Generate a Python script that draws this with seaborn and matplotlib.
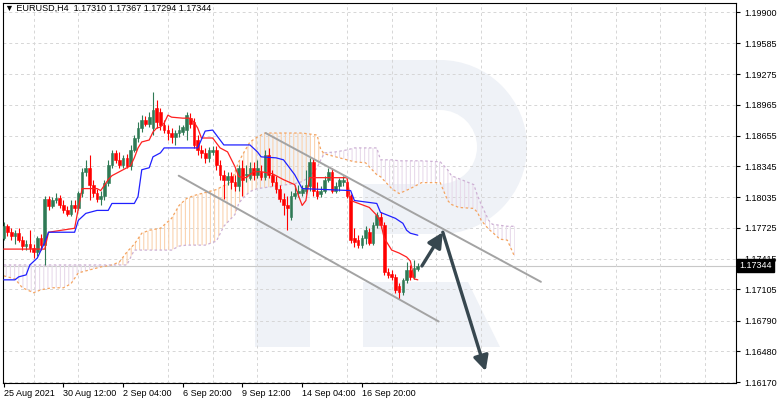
import numpy as np
import matplotlib
matplotlib.use("Agg")
import matplotlib.pyplot as plt
import matplotlib.transforms as mtransforms
from matplotlib.patches import Rectangle, Wedge, Polygon
import seaborn as sns

# EURUSD H4 candles (oldest first)
open_ = [1.1762, 1.1774, 1.1768, 1.1764, 1.1767, 1.1760, 1.1754, 1.1756, 1.1752, 1.1748,
         1.1762, 1.1755, 1.1802, 1.1794, 1.1800, 1.1803, 1.1795, 1.1790, 1.1786, 1.1795,
         1.1792, 1.1808, 1.1829, 1.1833, 1.1816, 1.1808, 1.1802, 1.1805, 1.1818, 1.1836,
         1.1848, 1.1841, 1.1836, 1.1843, 1.1835, 1.1851, 1.1863, 1.1873, 1.1881, 1.1877,
         1.1873, 1.1893, 1.1889, 1.1876, 1.1871, 1.1868, 1.1864, 1.1868, 1.1869, 1.1871,
         1.1883, 1.1879, 1.1861, 1.1851, 1.1848, 1.1843, 1.1849, 1.1851, 1.1836, 1.1826,
         1.1821, 1.1825, 1.1819, 1.1815, 1.1833, 1.1826, 1.1823, 1.1833, 1.1826, 1.1829,
         1.1824, 1.1846, 1.1826, 1.1819, 1.1812, 1.1802, 1.1795, 1.1783, 1.1805, 1.1808,
         1.1808, 1.1810, 1.1815, 1.1839, 1.1810, 1.1807, 1.1810, 1.1821, 1.1829, 1.1810,
         1.1815, 1.1819, 1.1819, 1.1805, 1.1762, 1.1760, 1.1755, 1.1762, 1.1768, 1.1757,
         1.1775, 1.1783, 1.1775, 1.1728, 1.1726, 1.1723, 1.1714, 1.1708, 1.1720, 1.1730,
         1.1723, 1.17310]
high = [1.1778, 1.1776, 1.1772, 1.1770, 1.1772, 1.1764, 1.1760, 1.1770, 1.1756, 1.1764,
        1.1766, 1.1805, 1.1805, 1.1804, 1.1808, 1.1806, 1.1800, 1.1794, 1.1800, 1.1800,
        1.1810, 1.1833, 1.1841, 1.1846, 1.1821, 1.1812, 1.1810, 1.1821, 1.1841, 1.1851,
        1.1851, 1.1849, 1.1846, 1.1847, 1.1856, 1.1866, 1.1879, 1.1886, 1.1885, 1.1889,
        1.1909, 1.1901, 1.1893, 1.1881, 1.1876, 1.1873, 1.1871, 1.1876, 1.1876, 1.1889,
        1.1888, 1.1883, 1.1866, 1.1856, 1.1853, 1.1854, 1.1855, 1.1855, 1.1841, 1.1831,
        1.1829, 1.1829, 1.1826, 1.1836, 1.1841, 1.1836, 1.1839, 1.1839, 1.1841, 1.1836,
        1.1851, 1.1853, 1.1831, 1.1825, 1.1816, 1.1808, 1.1805, 1.1810, 1.1816, 1.1816,
        1.1816, 1.1831, 1.1843, 1.1843, 1.1819, 1.1815, 1.1825, 1.1833, 1.1833, 1.1819,
        1.1823, 1.1825, 1.1823, 1.1807, 1.1772, 1.1765, 1.1765, 1.1774, 1.1772, 1.1778,
        1.1788, 1.1788, 1.1778, 1.1732, 1.1730, 1.1726, 1.1717, 1.1722, 1.1738, 1.1735,
        1.1740, 1.17367]
low = [1.1760, 1.1764, 1.1760, 1.1756, 1.1758, 1.1750, 1.1750, 1.1748, 1.1742, 1.1744,
       1.1750, 1.1735, 1.1790, 1.1792, 1.1797, 1.1792, 1.1787, 1.1784, 1.1784, 1.1788,
       1.1790, 1.1804, 1.1825, 1.1800, 1.1804, 1.1798, 1.1795, 1.1800, 1.1815, 1.1833,
       1.1838, 1.1833, 1.1833, 1.1833, 1.1831, 1.1849, 1.1859, 1.1869, 1.1875, 1.1874,
       1.1866, 1.1873, 1.1871, 1.1868, 1.1861, 1.1858, 1.1856, 1.1864, 1.1866, 1.1861,
       1.1873, 1.1853, 1.1846, 1.1843, 1.1838, 1.1839, 1.1846, 1.1831, 1.1821, 1.1802,
       1.1816, 1.1812, 1.1810, 1.1810, 1.1805, 1.1819, 1.1821, 1.1821, 1.1823, 1.1821,
       1.1821, 1.1823, 1.1815, 1.1808, 1.1798, 1.1785, 1.1770, 1.1780, 1.1802, 1.1804,
       1.1805, 1.1807, 1.1810, 1.1805, 1.1802, 1.1804, 1.1808, 1.1819, 1.1808, 1.1808,
       1.1810, 1.1815, 1.1803, 1.1757, 1.1753, 1.1752, 1.1752, 1.1756, 1.1755, 1.1755,
       1.1772, 1.1772, 1.1725, 1.1722, 1.1720, 1.1707, 1.1701, 1.1705, 1.1717, 1.1720,
       1.1721, 1.17294]
close = [1.1774, 1.1768, 1.1764, 1.1767, 1.1760, 1.1754, 1.1756, 1.1752, 1.1748, 1.1762,
         1.1755, 1.1802, 1.1794, 1.1800, 1.1803, 1.1795, 1.1790, 1.1786, 1.1795, 1.1792,
         1.1808, 1.1829, 1.1833, 1.1816, 1.1808, 1.1802, 1.1805, 1.1818, 1.1836, 1.1848,
         1.1841, 1.1836, 1.1843, 1.1835, 1.1851, 1.1863, 1.1873, 1.1881, 1.1877, 1.1884,
         1.1891, 1.1879, 1.1876, 1.1871, 1.1868, 1.1864, 1.1868, 1.1871, 1.1874, 1.1886,
         1.1877, 1.1856, 1.1851, 1.1848, 1.1843, 1.1851, 1.1851, 1.1836, 1.1826, 1.1821,
         1.1825, 1.1819, 1.1815, 1.1833, 1.1821, 1.1827, 1.1833, 1.1826, 1.1833, 1.1824,
         1.1846, 1.1826, 1.1819, 1.1812, 1.1802, 1.1795, 1.1792, 1.1805, 1.1808, 1.1810,
         1.1812, 1.1816, 1.1839, 1.1810, 1.1805, 1.1810, 1.1821, 1.1829, 1.1810, 1.1815,
         1.1821, 1.1821, 1.1805, 1.1760, 1.1758, 1.1755, 1.1762, 1.1770, 1.1757, 1.1775,
         1.1785, 1.1775, 1.1728, 1.1725, 1.1723, 1.1710, 1.1708, 1.1720, 1.1730, 1.1723,
         1.1732, 1.17344]

# Ichimoku Tenkan-sen (red) and Kijun-sen (blue), vertices as (bar, price)
tenkan_x = [0, 11, 12, 19, 20, 21, 25, 26, 28, 29, 34, 35, 36, 37, 39, 40, 41, 42, 43, 44,
            45, 48, 50, 51, 52, 53, 56, 58, 60, 62, 63, 65, 67, 69, 72, 75, 78, 79, 80, 81,
            82, 92, 93, 98, 100, 101, 102, 104, 106, 108, 109, 110, 111]
tenkan = [1.1751, 1.1751, 1.1768, 1.1772, 1.1792, 1.1812, 1.1812, 1.1810, 1.1821, 1.1825,
          1.1835, 1.1843, 1.1853, 1.1859, 1.1861, 1.1869, 1.1873, 1.1874, 1.1878, 1.1886,
          1.1884, 1.1883, 1.1883, 1.1879, 1.1873, 1.1863, 1.1863, 1.1853, 1.1849, 1.1834,
          1.1824, 1.1823, 1.1829, 1.1829, 1.1827, 1.1821, 1.1816, 1.1805, 1.1795, 1.1800,
          1.1823, 1.1823, 1.1800, 1.1793, 1.1785, 1.1778, 1.1762, 1.1750, 1.1747, 1.1743,
          1.1739, 1.1721, 1.1720]
kijun_x = [0, 3, 4, 6, 7, 9, 10, 11, 12, 19, 20, 22, 25, 28, 29, 35, 36, 37, 39, 40,
           42, 43, 52, 54, 56, 59, 66, 68, 69, 73, 75, 78, 80, 93, 94, 100, 101, 105, 107, 108,
           109, 111]
kijun = [1.1720, 1.1720, 1.1723, 1.1725, 1.1735, 1.1742, 1.1750, 1.1758, 1.1768, 1.1768,
         1.1780, 1.1787, 1.1790, 1.1790, 1.1797, 1.1797, 1.1804, 1.1831, 1.1833, 1.1844,
         1.1848, 1.1853, 1.1853, 1.1870, 1.1871, 1.1856, 1.1856, 1.1849, 1.1844, 1.1843,
         1.1841, 1.1826, 1.1812, 1.1810, 1.1800, 1.1797, 1.1788, 1.1782, 1.1777, 1.1770,
         1.1767, 1.1765]

# Senkou span A / B (cloud, already shifted 26 bars ahead)
span_x = [0, 3, 5, 8, 10, 13, 16, 18, 20, 23, 26, 29, 31, 33, 35, 37, 39, 42, 45, 47,
          49, 51, 54, 57, 59, 61, 62, 63, 64, 66, 68, 70, 74, 78, 80, 82, 84, 85, 86, 89,
          92, 94, 97, 100, 101, 104, 106, 109, 112, 117, 119, 120, 122, 126, 127, 128, 130, 131, 133, 135,
          137]
span_a = [1.1724, 1.1721, 1.1712, 1.1707, 1.1710, 1.1712, 1.1712, 1.1716, 1.1727, 1.1730,
          1.1733, 1.1735, 1.1738, 1.1748, 1.1756, 1.1767, 1.1770, 1.1772, 1.1782, 1.1795,
          1.1802, 1.1805, 1.1808, 1.1811, 1.1815, 1.1819, 1.1829, 1.1839, 1.1846, 1.1859,
          1.1864, 1.1868, 1.1868, 1.1868, 1.1868, 1.1867, 1.1866, 1.1851, 1.1847, 1.1844,
          1.1841, 1.1839, 1.1838, 1.1826, 1.1824, 1.1812, 1.1807, 1.1812, 1.1818, 1.1818,
          1.1800, 1.1796, 1.1793, 1.1792, 1.1788, 1.1780, 1.1771, 1.1768, 1.1761, 1.1760,
          1.1743]
span_b = [1.1735, 1.1735, 1.1735, 1.1735, 1.1735, 1.1735, 1.1735, 1.1735, 1.1735, 1.1735,
          1.1735, 1.1735, 1.1735, 1.1735, 1.1750, 1.1750, 1.1750, 1.1750, 1.1750, 1.1754,
          1.1755, 1.1755, 1.1755, 1.1759, 1.1774, 1.1782, 1.1786, 1.1797, 1.1802, 1.1809,
          1.1812, 1.1813, 1.1815, 1.1817, 1.1819, 1.1824, 1.1833, 1.1841, 1.1848, 1.1849,
          1.1851, 1.1853, 1.1853, 1.1853, 1.1841, 1.1841, 1.1840, 1.1840, 1.1840, 1.1839,
          1.1831, 1.1825, 1.1822, 1.1816, 1.1805, 1.1796, 1.1780, 1.1776, 1.1775, 1.1774,
          1.1774]

# hand-drawn channel and forecast arrows (bar, price)
channel_upper = [(70.2, 1.1868), (144.0, 1.1718)]
channel_lower = [(46.9, 1.1825), (116.6, 1.1678)]
arrow_path = [(112.1, 1.1734), (117.7, 1.1768), (129.2, 1.1628)]

price_ticks = [1.19900, 1.19585, 1.19275, 1.18965, 1.18655, 1.18345, 1.18035,
               1.17725, 1.17415, 1.17105, 1.16790, 1.16480, 1.16170]
time_ticks = [0, 16, 32, 48, 64, 80, 96]
time_labels = ["25 Aug 2021", "30 Aug 12:00", "2 Sep 04:00", "6 Sep 20:00",
               "9 Sep 12:00", "14 Sep 04:00", "16 Sep 20:00"]

sns.set_style("white")
plt.rcParams["font.family"] = ["Liberation Sans", "DejaVu Sans"]
plt.rcParams["hatch.linewidth"] = 0.8

fig = plt.figure(figsize=(7.82, 4.03), dpi=100)

# watermark logo behind the chart (pixel coordinates)
bg = fig.add_axes([0, 0, 1, 1])
bg.set_xlim(0, 782)
bg.set_ylim(403, 0)
bg.axis("off")
wm = "#eff2f7"
bg.add_patch(Rectangle((255, 60), 55, 287, color=wm, lw=0))
bg.add_patch(Rectangle((255, 60), 185, 50, color=wm, lw=0))
bg.add_patch(Rectangle((363, 184), 77, 50, color=wm, lw=0))
bg.add_patch(Wedge((440, 147), 87, -90, 90, width=50, color=wm, lw=0))
bg.add_patch(Polygon([(363, 282), (468, 282), (500, 347), (363, 347)], color=wm, lw=0))

ax = fig.add_axes([3 / 782, 20 / 403, 733 / 782, 380 / 403])
ax.set_facecolor("none")

o = np.array(open_)
h = np.array(high)
l = np.array(low)
c = np.array(close)
idx = np.arange(len(c))
up = c >= o

green = "#2f7a55"
red = "#ff0000"

# cloud
sx = np.array(span_x)
sa = np.array(span_a)
sb = np.array(span_b)
ax.fill_between(sx, sa, sb, where=sa >= sb, interpolate=True, facecolor="none",
                edgecolor="#fad3b0", hatch="||||", linewidth=0, zorder=1)
ax.fill_between(sx, sa, sb, where=sa < sb, interpolate=True, facecolor="none",
                edgecolor="#e8dbeb", hatch="||||", linewidth=0, zorder=1)
sns.lineplot(x=sx, y=sa, color="#f4a460", linestyle=(0, (2, 2)), lw=0.9,
             estimator=None, sort=False, ax=ax, zorder=2)
sns.lineplot(x=sx, y=sb, color="#cdb0d4", linestyle=(0, (2, 2)), lw=0.9,
             estimator=None, sort=False, ax=ax, zorder=2)

# candles
ax.vlines(idx[up], l[up], h[up], color=green, lw=0.8, zorder=3)
ax.vlines(idx[~up], l[~up], h[~up], color=red, lw=0.8, zorder=3)
ax.bar(idx[up], c[up] - o[up], bottom=o[up], width=0.72, color=green,
       edgecolor=green, linewidth=0.4, zorder=4)
ax.bar(idx[~up], c[~up] - o[~up], bottom=o[~up], width=0.72, color=red,
       edgecolor=red, linewidth=0.4, zorder=4)

# tenkan / kijun
sns.lineplot(x=tenkan_x, y=tenkan, color="#ff2020", lw=0.9, estimator=None,
             sort=False, ax=ax, zorder=5)
sns.lineplot(x=kijun_x, y=kijun, color="#2020ff", lw=0.9, estimator=None,
             sort=False, ax=ax, zorder=5)

# current price line
ax.axhline(c[-1], color="#c8c8c8", lw=0.8, zorder=0.5)

# channel
for line in (channel_upper, channel_lower):
    xs, ys = zip(*line)
    ax.plot(xs, ys, color="#a3a3a3", lw=1.4, zorder=6)

# forecast arrows
for start, end in zip(arrow_path[:-1], arrow_path[1:]):
    ax.annotate("", xy=end, xytext=start,
                arrowprops=dict(arrowstyle="-|>,head_length=0.9,head_width=0.45",
                                color="#37474f", lw=2.4, shrinkA=0, shrinkB=0),
                zorder=7)

ax.set_xlim(-0.2, 196.3)
ax.set_ylim(1.16160, 1.19991)

ax.yaxis.tick_right()
ax.set_yticks(price_ticks)
ax.set_yticklabels([f"{p:.5f}" for p in price_ticks])
ax.set_xticks(time_ticks)
ax.set_xticklabels(time_labels, ha="left")
ax.set_xticks(np.arange(8, 196, 12), minor=True)

ax.grid(False)
ax.grid(True, axis="y", which="major", color="#d6d6d6", lw=0.7, ls=(0, (3, 3)), zorder=0)
ax.grid(True, axis="x", which="minor", color="#d6d6d6", lw=0.7, ls=(0, (3, 3)), zorder=0)
ax.set_axisbelow(True)
ax.tick_params(axis="x", which="minor", length=0)
ax.tick_params(axis="x", which="major", length=3, width=0.8, pad=1.5,
               labelsize=6.5, colors="black", bottom=True)
ax.tick_params(axis="y", which="major", length=3, width=0.8, pad=3,
               labelsize=6.5, colors="black", right=True, left=False)
for s in ax.spines.values():
    s.set_visible(True)
    s.set_color("black")
    s.set_linewidth(0.8)
ax.set_xlabel("")
ax.set_ylabel("")

# symbol header
ax.text(0.003, 0.9855, "\u25bc EURUSD,H4  1.17310 1.17367 1.17294 1.17344",
        transform=ax.transAxes, ha="left", va="center", fontsize=6.5, color="black")

# last price tag on the right axis (sits over the 1.17415 label, as in the terminal)
tr = mtransforms.blended_transform_factory(ax.transAxes, ax.transData)
ax.text(1.004, c[-1], f"{c[-1]:.5f}", transform=tr, ha="left", va="center",
        fontsize=6.5, color="white",
        bbox=dict(boxstyle="square,pad=0.25", fc="black", ec="black"))

fig.savefig("out.png", dpi=100)
